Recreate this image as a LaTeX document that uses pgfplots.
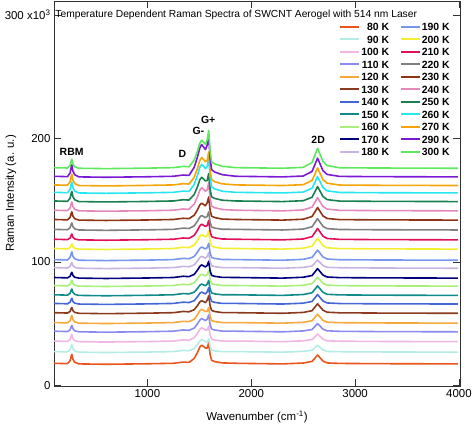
\documentclass[border=0pt]{standalone}
\usepackage{fontspec}
\setmainfont{Liberation Sans}
\usepackage{pgfplots}
\usepackage{pgfplotstable}
\pgfplotsset{compat=1.18}
\definecolor{c80}{HTML}{E8561E}
\definecolor{c90}{HTML}{B4ECE6}
\definecolor{c100}{HTML}{F2B6E4}
\definecolor{c110}{HTML}{8A8AF0}
\definecolor{c120}{HTML}{F5A83C}
\definecolor{c130}{HTML}{8B3A1E}
\definecolor{c140}{HTML}{4466D6}
\definecolor{c150}{HTML}{128A8A}
\definecolor{c160}{HTML}{A8F07A}
\definecolor{c170}{HTML}{00007F}
\definecolor{c180}{HTML}{C8B4E0}
\definecolor{c190}{HTML}{7896EE}
\definecolor{c200}{HTML}{F2EE30}
\definecolor{c210}{HTML}{E0105A}
\definecolor{c220}{HTML}{808080}
\definecolor{c230}{HTML}{8E3414}
\definecolor{c240}{HTML}{E488BC}
\definecolor{c250}{HTML}{1A8050}
\definecolor{c260}{HTML}{28E6F0}
\definecolor{c270}{HTML}{F5A50A}
\definecolor{c290}{HTML}{7A1AD6}
\definecolor{c300}{HTML}{5EE85E}
\pgfplotstableread{
x t80 t90 t100 t110 t120 t130 t140 t150 t160 t170 t180 t190 t200 t210 t220 t230 t240 t250 t260 t270 t290 t300
100 17.8 27.3 35.8 43.8 50.8 58.8 66.3 73.3 80.8 87.3 95.3 101.8 110.8 118.3 126.3 134.3 141.8 149.3 156.3 162.3 169.3 176.3
230 17.5 27 35.5 43.5 50.5 58.5 66 73 80.5 87 95 101.5 110.5 118 126 134 141.5 149 156 162 169 176
255 19.8 28.8 37.1 44.9 52.3 59.8 67.3 74.4 81.8 88.3 96.3 103.5 111.6 119.3 127.6 136 143.6 151.5 158.7 164.8 172 178.1
265 23.4 31.7 39.8 47.4 55.2 62 69.5 76.9 84 90.5 98.5 106.6 113.6 121.5 130.3 139.1 147 155.3 162.7 169.1 176.5 181.5
272 25 33 41 48.5 56.5 63 70.5 78 85 91.5 99.5 108 114.5 122.5 131.5 140.5 148.5 157 164.5 171 178.5 183
282 21 29.8 38 45.8 53.3 60.5 68 75.3 82.5 89 97 104.5 112.3 120 128.5 137 144.8 152.8 160 166.3 173.5 179.3
300 18.6 27.8 36.2 44.1 51.3 59 66.5 73.6 81 87.5 95.5 102.4 110.9 118.5 126.7 134.9 142.5 150.2 157.3 163.4 170.5 177
340 17.3 26.8 35.3 43.3 50.3 58.3 65.8 72.8 80.3 86.8 94.8 101.3 110.3 117.8 125.8 133.8 141.3 148.8 155.8 161.8 168.8 175.8
600 17 26.5 35 43 50 58 65.5 72.5 80 86.5 94.5 101 110 117.5 125.5 133.5 141 148.5 155.5 161.5 168.5 175.5
1000 17.4 26.9 35.4 43.4 50.4 58.4 65.9 72.9 80.4 86.9 94.9 101.4 110.4 117.9 125.9 133.9 141.4 148.9 155.9 161.9 168.9 175.9
1250 17.8 27.3 35.8 43.8 50.8 58.8 66.3 73.3 80.8 87.3 95.3 101.8 110.8 118.3 126.3 134.3 141.8 149.3 156.3 162.3 169.3 176.3
1345 18.8 28.3 36.8 44.8 51.8 59.8 67.3 74.3 81.8 88.3 96.3 102.8 111.8 119.3 127.3 135.3 142.8 150.3 157.3 163.3 170.3 177.3
1400 18.5 28 36.5 44.5 51.5 59.5 67 74 81.5 88 96 102.5 111.5 119 127 135 142.5 150 157 163 170 177
1450 21.7 29.7 38.5 46.3 53.5 61.2 68.5 75.4 83 89.8 97.5 104.3 113.6 121.4 129.1 137.7 146.7 154.5 162.6 168.4 176.5 182.4
1480 26.3 32.8 41.9 49.6 56.9 64.3 71.5 78.2 86 93.1 100.5 107.6 117.2 125.3 132.7 141.9 152.4 160.5 169.6 175.3 184.4 189.3
1505 31 36 45.4 52.9 60.4 67.5 74.5 81.1 89 96.4 103.5 110.9 120.8 129.2 136.3 146.1 158.1 166.5 176.7 182.2 192.4 196.2
1522 32.5 37 46.5 54 61.5 68.5 75.5 82 90 97.5 104.5 112 122 130.5 137.5 147.5 160 168.5 179 184.5 195 198.5
1540 31.4 36.3 45.7 53.2 60.7 67.8 74.8 81.3 89.3 96.7 103.8 111.2 121.2 129.6 136.7 146.5 158.7 167.1 177.4 182.9 193.1 196.9
1558 30.2 35.4 44.8 52.4 59.8 66.9 74 80.6 88.5 95.9 103 110.4 120.2 128.6 135.7 145.4 157.2 165.5 175.5 181.1 191 195.1
1575 30.1 34.8 44.8 53.5 59.8 68.9 75.6 81.9 89.8 97 104.3 111.5 121.3 129.5 136.8 147.8 158.3 165.8 177.3 182.1 194.4 198.8
1590 34.5 37.5 48 57 63 72.5 79 85 93 100.5 107.5 115 125 133.5 140.5 152.5 164 171.5 184.5 189 203 206.5
1603 24.9 31.5 40.9 49.3 55.9 64.5 71.6 78.1 85.9 92.8 100.4 107.3 116.8 124.7 132.3 142.1 151.4 158.9 168.6 173.9 184 189.5
1618 20.2 28.5 37.3 45.5 52.3 60.6 67.9 74.8 82.3 89 96.8 103.5 112.7 120.4 128.2 136.9 145.1 152.6 160.7 166.5 174.7 181.1
1650 19.1 27.8 36.6 44.7 51.6 59.7 67.1 74 81.6 88.2 96.1 102.7 111.8 119.4 127.3 135.8 143.8 151.3 159 164.8 172.6 179.2
1720 18.1 27.2 35.8 43.9 50.8 58.9 66.3 73.3 80.8 87.4 95.3 101.9 110.9 118.5 126.4 134.6 142.4 149.9 157.2 163.2 170.6 177.4
1850 17.8 27.3 35.8 43.8 50.8 58.8 66.3 73.3 80.8 87.3 95.3 101.8 110.8 118.3 126.3 134.3 141.8 149.3 156.3 162.3 169.3 176.3
2300 17.3 26.8 35.3 43.3 50.3 58.3 65.8 72.8 80.3 86.8 94.8 101.3 110.3 117.8 125.8 133.8 141.3 148.8 155.8 161.8 168.8 175.8
2500 18 27.5 36 44 51 59 66.5 73.5 81 87.5 95.5 102 111 118.5 126.5 134.5 142 149.5 156.5 162.5 169.5 176.5
2585 19.3 28.3 37 45.1 52.3 60.4 67.9 74.9 82.3 88.9 96.6 103.6 112.7 120.4 128.4 136.7 144.3 152.3 159.6 165.9 173.2 180.5
2612 21.9 30.4 39.2 47.6 54.9 63.2 70.7 77.7 84.9 91.7 99.1 106.5 115.9 123.7 131.7 140.3 148.2 156.6 164.3 170.9 178.6 186.2
2638 24.5 32.5 41.5 50 57.5 66 73.5 80.5 87.5 94.5 101.5 109.5 119 127 135 144 152 161 169 176 184 192
2662 22.3 30.7 39.6 47.9 55.3 63.6 71.1 78.1 85.3 92.1 99.4 107 116.3 124.2 132.2 140.9 148.7 157.3 165 171.7 179.4 187.1
2690 19.6 28.6 37.3 45.5 52.6 60.8 68.3 75.3 82.6 89.3 97 104 113.2 120.8 128.8 137.2 144.9 152.9 160.2 166.6 173.9 181.3
2730 18.1 27.4 36 44.1 51.1 59.2 66.7 73.7 81.1 87.7 95.6 102.3 111.4 118.9 126.9 135.1 142.7 150.4 157.5 163.7 170.8 178
2850 17.7 27.2 35.7 43.7 50.7 58.7 66.2 73.2 80.7 87.2 95.2 101.7 110.7 118.2 126.2 134.2 141.7 149.2 156.2 162.2 169.2 176.2
3200 17.5 27 35.5 43.5 50.5 58.5 66 73 80.5 87 95 101.5 110.5 118 126 134 141.5 149 156 162 169 176
3990 17.3 26.8 35.3 43.3 50.3 58.3 65.8 72.8 80.3 86.8 94.8 101.3 110.3 117.8 125.8 133.8 141.3 148.8 155.8 161.8 168.8 175.8
}\spectra
\begin{document}
\begin{tikzpicture}
\begin{axis}[
  scale only axis, width=406bp, height=385bp,
  xmin=100, xmax=4010, ymin=-0.6, ymax=311.3,
  xtick={1000,2000,3000,4000}, xticklabels={1000,2000,3000,4000},
  ytick={0,100,200,300}, yticklabels={0,100,200,{300 x10\textsuperscript{3}}},
  tick align=inside, major tick length=7bp,
  tick style={black!80, line width=0.6bp},
  axis line style={black!80, line width=0.8bp},
  ticklabel style={font=\fontsize{11.5}{13}\selectfont},
  xlabel={Wavenumber (cm\textsuperscript{-1})},
  ylabel={Raman Intensity (a. u.)},
  label style={font=\fontsize{11.5}{13}\selectfont},
  xlabel style={at={(axis description cs:0.5,-0.08)}, anchor=center},
  ylabel style={at={(axis description cs:-0.106,0.5)}, anchor=center},
  every axis plot/.append style={line width=1.6bp, line join=round},
  legend cell align=right,
  legend columns=2,
  legend image code/.code={\draw[#1, line width=1.6bp] (0bp,0bp) -- (19bp,0bp);},
  legend style={draw=none, fill=none, at={(rel axis cs:0.985,0.951)}, anchor=north east,
    font=\bfseries\fontsize{10.5}{12}\selectfont,
    nodes={inner sep=1bp, text height=7.5bp, text depth=0bp},
    row sep=3bp,
    /tikz/every even column/.append style={column sep=10bp}},
  clip=false,
]
\addplot[c80, forget plot] table[x=x, y=t80] {\spectra};
\addplot[c90, forget plot] table[x=x, y=t90] {\spectra};
\addplot[c100, forget plot] table[x=x, y=t100] {\spectra};
\addplot[c110, forget plot] table[x=x, y=t110] {\spectra};
\addplot[c120, forget plot] table[x=x, y=t120] {\spectra};
\addplot[c130, forget plot] table[x=x, y=t130] {\spectra};
\addplot[c140, forget plot] table[x=x, y=t140] {\spectra};
\addplot[c150, forget plot] table[x=x, y=t150] {\spectra};
\addplot[c160, forget plot] table[x=x, y=t160] {\spectra};
\addplot[c170, forget plot] table[x=x, y=t170] {\spectra};
\addplot[c180, forget plot] table[x=x, y=t180] {\spectra};
\addplot[c190, forget plot] table[x=x, y=t190] {\spectra};
\addplot[c200, forget plot] table[x=x, y=t200] {\spectra};
\addplot[c210, forget plot] table[x=x, y=t210] {\spectra};
\addplot[c220, forget plot] table[x=x, y=t220] {\spectra};
\addplot[c230, forget plot] table[x=x, y=t230] {\spectra};
\addplot[c240, forget plot] table[x=x, y=t240] {\spectra};
\addplot[c250, forget plot] table[x=x, y=t250] {\spectra};
\addplot[c260, forget plot] table[x=x, y=t260] {\spectra};
\addplot[c270, forget plot] table[x=x, y=t270] {\spectra};
\addplot[c290, forget plot] table[x=x, y=t290] {\spectra};
\addplot[c300, forget plot] table[x=x, y=t300] {\spectra};
\addlegendimage{c80}\addlegendentry{80 K}
\addlegendimage{c190}\addlegendentry{190 K}
\addlegendimage{c90}\addlegendentry{90 K}
\addlegendimage{c200}\addlegendentry{200 K}
\addlegendimage{c100}\addlegendentry{100 K}
\addlegendimage{c210}\addlegendentry{210 K}
\addlegendimage{c110}\addlegendentry{110 K}
\addlegendimage{c220}\addlegendentry{220 K}
\addlegendimage{c120}\addlegendentry{120 K}
\addlegendimage{c230}\addlegendentry{230 K}
\addlegendimage{c130}\addlegendentry{130 K}
\addlegendimage{c240}\addlegendentry{240 K}
\addlegendimage{c140}\addlegendentry{140 K}
\addlegendimage{c250}\addlegendentry{250 K}
\addlegendimage{c150}\addlegendentry{150 K}
\addlegendimage{c260}\addlegendentry{260 K}
\addlegendimage{c160}\addlegendentry{160 K}
\addlegendimage{c270}\addlegendentry{270 K}
\addlegendimage{c170}\addlegendentry{170 K}
\addlegendimage{c290}\addlegendentry{290 K}
\addlegendimage{c180}\addlegendentry{180 K}
\addlegendimage{c300}\addlegendentry{300 K}
\node[anchor=west, inner sep=0pt, font=\fontsize{10.3}{12}\selectfont] at (rel axis cs:0.003,0.9636) {Temperature Dependent Raman Spectra of SWCNT Aerogel with 514 nm Laser};
\node[font=\bfseries\fontsize{10.5}{12}\selectfont] at (axis cs:270,189.4) {RBM};
\node[font=\bfseries\fontsize{10.5}{12}\selectfont] at (axis cs:1337,187.5) {D};
\node[font=\bfseries\fontsize{10.5}{12}\selectfont] at (axis cs:1490,206) {G-};
\node[font=\bfseries\fontsize{10.5}{12}\selectfont] at (axis cs:1585,215) {G+};
\node[font=\bfseries\fontsize{10.5}{12}\selectfont] at (axis cs:2644,198.8) {2D};
\end{axis}
\pgfresetboundingbox
\path[use as bounding box] (current axis.south west) ++(-54bp,-38bp) rectangle ++(474bp,424bp);
\end{tikzpicture}
\end{document}
